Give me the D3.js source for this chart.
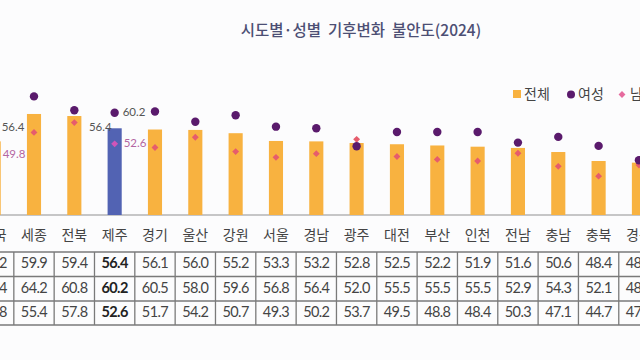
<!DOCTYPE html>
<html>
<head>
<meta charset="utf-8">
<script src="https://cdn.jsdelivr.net/npm/d3@7"></script>
<style>
  body { margin: 0; background: #fcfcfd; }
  svg { display: block; }
  .ttl { font-family: "Noto Sans CJK KR", sans-serif; font-weight: 500; }
  .cat, .lgd { font-family: "Noto Sans CJK KR", sans-serif; }
  .num, .lbl { font-family: Lato, "Open Sans", sans-serif; }
</style>
</head>
<body>
<svg id="chart" width="640" height="360"></svg>
<script>
var regions = ["전국","세종","전북","제주","경기","울산","강원","서울","경남","광주","대전","부산","인천","전남","충남","충북","경북"]
var total  = [53.2,59.9,59.4,56.4,56.1,56.0,55.2,53.3,53.2,52.8,52.5,52.2,51.9,51.6,50.6,48.4,48.0]
var female = [56.4,64.2,60.8,60.2,60.5,58.0,59.6,56.8,56.4,52.0,55.5,55.5,55.5,52.9,54.3,52.1,48.6]
var male   = [49.8,55.4,57.8,52.6,51.7,54.2,50.7,49.3,50.2,53.7,49.5,48.8,48.4,50.3,47.1,44.7,47.4]
var seriesNames = ["전체","여성","남성"]
var highlight = "제주"

var W = 640, H = 360
var svg = d3.select("#chart")

var c_bar = "#f8b240", c_hi = "#5263b3", c_fem = "#5a1a6c", c_male = "#e65c6c", c_male_hi = "#d055b8"

var x = d3.scaleBand()
  .domain(regions)
  .range([-26.5, 659.1])
  .paddingInner(0.65)
  .paddingOuter(0.325)
var y = d3.scaleLinear()
  .domain([35.2, 65])
  .range([215, 215 - (65 - 35.2) * 4.09])

var cx = d => x(d) + x.bandwidth() / 2

// title
svg.append("text")
  .attr("class", "ttl")
  .attr("x", 361).attr("y", 32)
  .attr("text-anchor", "middle")
  .attr("dominant-baseline", "middle")
  .attr("font-size", 15.5)
  .attr("fill", "#4c4f74")
  .attr("xml:space", "preserve")
  .text("시도별·성별  기후변화  불안도(2024)")

// baseline
svg.append("line")
  .attr("x1", 0).attr("x2", W)
  .attr("y1", y.range()[0]).attr("y2", y.range()[0])
  .attr("stroke", "#b4b4b4").attr("stroke-width", 1.5)

var rows = regions.map((r, i) => ({ r: r, t: total[i], f: female[i], m: male[i] }))

svg.append("g").selectAll("rect")
  .data(rows)
  .join("rect")
  .attr("x", d => x(d.r))
  .attr("width", x.bandwidth())
  .attr("y", d => y(d.t))
  .attr("height", d => y.range()[0] - y(d.t))
  .attr("fill", d => d.r == highlight ? c_hi : c_bar)

var star = d3.symbol().type(d3.symbolDiamond2).size(30)

svg.append("g").selectAll("path")
  .data(rows)
  .join("path")
  .attr("d", star)
  .attr("transform", d => "translate(" + cx(d.r) + "," + y(d.m) + ")")
  .attr("fill", d => d.r == highlight ? c_male_hi : c_male)

svg.append("g").selectAll("circle")
  .data(rows)
  .join("circle")
  .attr("cx", d => cx(d.r))
  .attr("cy", d => y(d.f))
  .attr("r", 4.2)
  .attr("fill", c_fem)

// value labels for 전국 and 제주
var lblRows = rows.filter(d => d.r == "전국" || d.r == highlight)
var lbl = svg.append("g").attr("class", "lbl").attr("font-size", 11.5)
lblRows.forEach(d => {
  lbl.append("text")
    .attr("x", cx(d.r) - 3).attr("y", y(d.t))
    .attr("text-anchor", "end").attr("dominant-baseline", "middle")
    .attr("fill", "#555").text(d.t.toFixed(1))
  lbl.append("text")
    .attr("x", cx(d.r) + 8).attr("y", y(d.f))
    .attr("dominant-baseline", "middle")
    .attr("fill", "#555").text(d.f.toFixed(1))
  lbl.append("text")
    .attr("x", cx(d.r) + 9).attr("y", y(d.m))
    .attr("dominant-baseline", "middle")
    .attr("fill", "#b466a2").text(d.m.toFixed(1))
})

// legend
var lg = svg.append("g").attr("class", "lgd").attr("font-size", 14).attr("fill", "#444")
lg.append("rect").attr("x", 513).attr("y", 90).attr("width", 8).attr("height", 8).attr("fill", c_bar)
lg.append("text").attr("x", 524).attr("y", 95).attr("dominant-baseline", "middle").text(seriesNames[0])
lg.append("circle").attr("cx", 571).attr("cy", 94.5).attr("r", 4).attr("fill", c_fem)
lg.append("text").attr("x", 578).attr("y", 95).attr("dominant-baseline", "middle").text(seriesNames[1])
lg.append("path").attr("d", star).attr("transform", "translate(622,94.5)").attr("fill", "#e66a9e")
lg.append("text").attr("x", 630).attr("y", 95).attr("dominant-baseline", "middle").text(seriesNames[2])

// category labels
svg.append("g").attr("class", "cat")
  .selectAll("text")
  .data(regions)
  .join("text")
  .attr("x", d => cx(d))
  .attr("y", 236)
  .attr("text-anchor", "middle")
  .attr("dominant-baseline", "middle")
  .attr("font-size", 14)
  .attr("fill", "#444")
  .text(d => d)

// table
var rowY = [252, 276.5, 301, 325]
var step = x.step()
var tbl = svg.append("g")
rowY.forEach(v => {
  tbl.append("line").attr("x1", 0).attr("x2", W).attr("y1", v).attr("y2", v)
    .attr("stroke", "#7a7a7a").attr("stroke-width", 1.3)
})
tbl.selectAll("line.v")
  .data(regions)
  .join("line")
  .attr("class", "v")
  .attr("x1", d => cx(d) + step / 2).attr("x2", d => cx(d) + step / 2)
  .attr("y1", rowY[0]).attr("y2", rowY[3])
  .attr("stroke", "#7a7a7a").attr("stroke-width", 1.3)

var series = [total, female, male]
series.forEach((s, k) => {
  tbl.append("g").attr("class", "num")
    .selectAll("text")
    .data(regions)
    .join("text")
    .attr("x", d => cx(d))
    .attr("y", (rowY[k] + rowY[k + 1]) / 2 + 0.5)
    .attr("text-anchor", "middle")
    .attr("dominant-baseline", "middle")
    .attr("font-size", 14.5)
    .attr("letter-spacing", -0.6)
    .attr("font-weight", d => d == highlight ? 700 : 400)
    .attr("fill", d => d == highlight ? "#222" : "#444")
    .text((d, i) => s[i].toFixed(1))
})
</script>
</body>
</html>
